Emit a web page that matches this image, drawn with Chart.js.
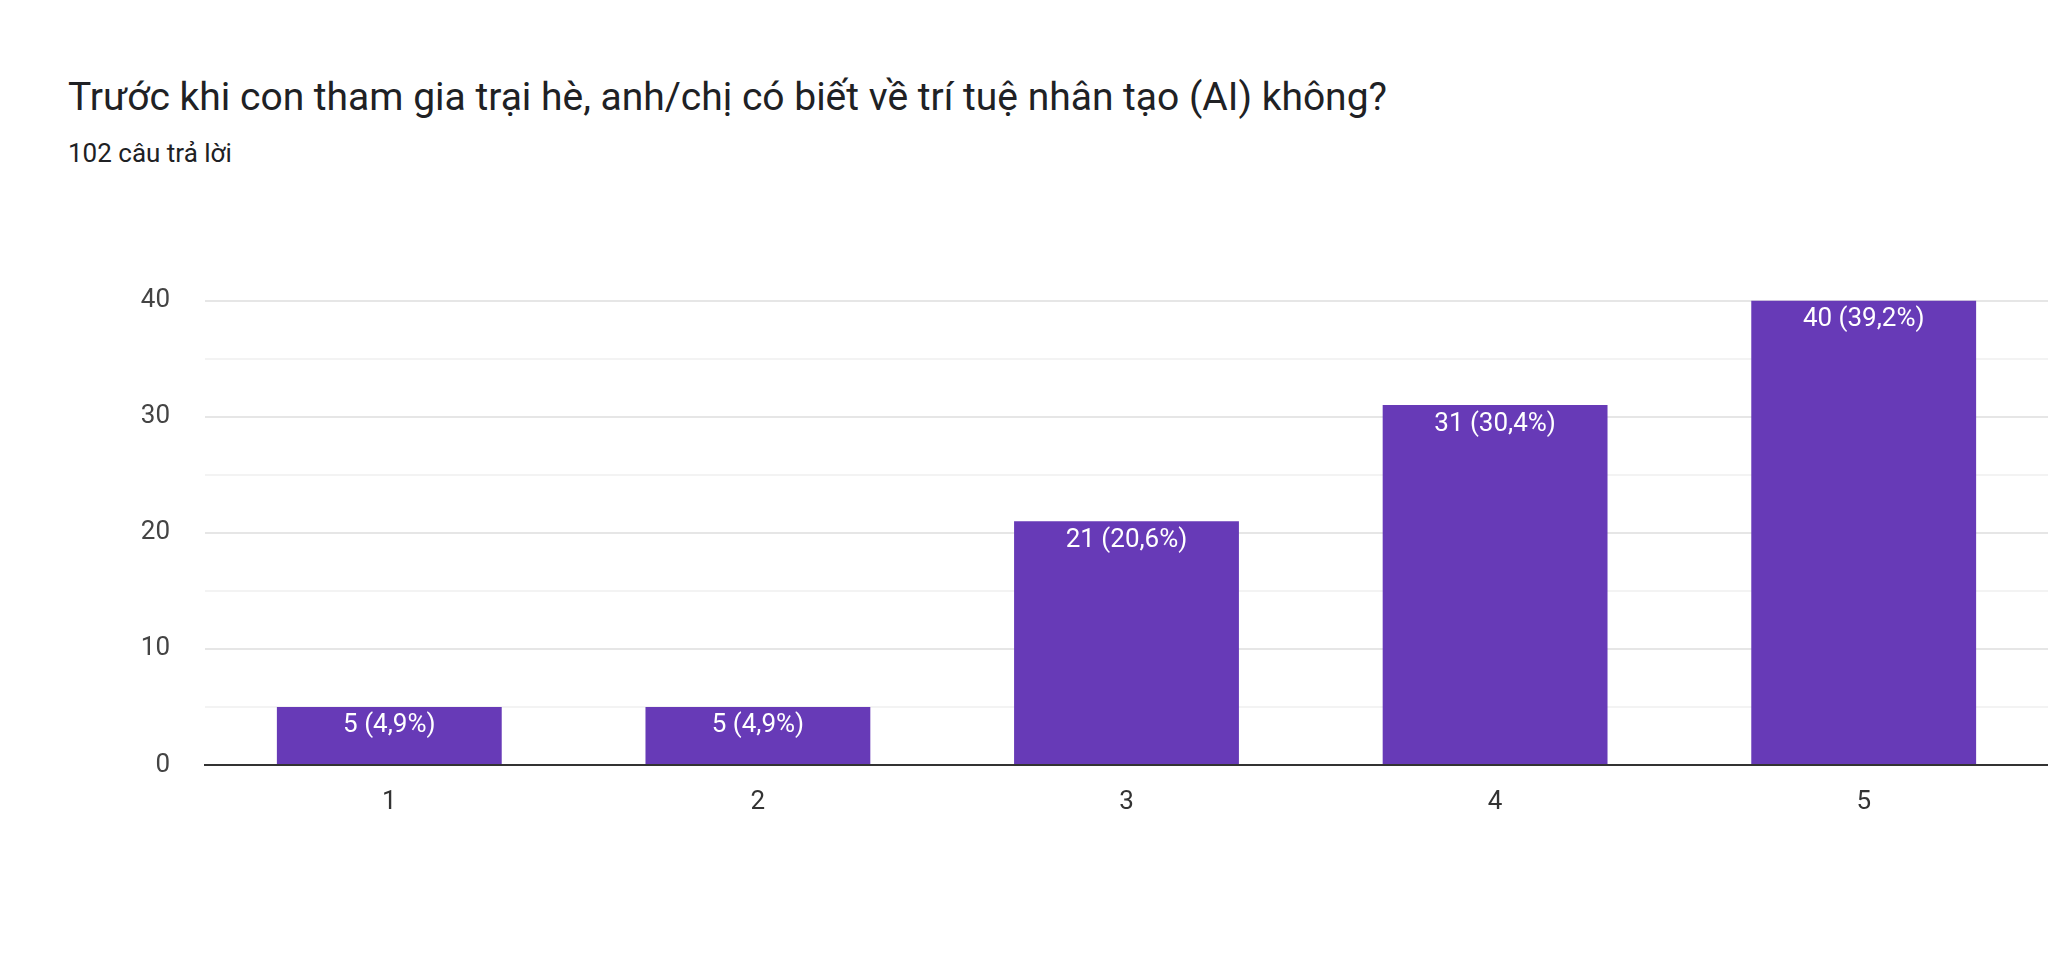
<!DOCTYPE html>
<html><head><meta charset="utf-8">
<script src="https://cdn.jsdelivr.net/npm/chart.js@4"></script>
<style>
body{margin:0;width:2048px;height:974px;background:#fff;font-family:Roboto,"Noto Sans",sans-serif;overflow:hidden;position:relative}
#title{position:absolute;left:68px;top:74px;font-size:39px;color:#202124}
#sub{position:absolute;left:68px;top:138px;font-size:26px;color:#202124}
#box{position:absolute;left:0;top:250px;width:2048px;height:615px}
</style></head><body>
<div id="title">Trước khi con tham gia trại hè, anh/chị có biết về trí tuệ nhân tạo (AI) không?</div>
<div id="sub">102 câu trả lời</div>
<div id="box"><canvas id="c"></canvas></div>
<script>
// data
const categories=["1","2","3","4","5"];
const counts=[5,5,21,31,40];
const labels=["5 (4,9%)","5 (4,9%)","21 (20,6%)","31 (30,4%)","40 (39,2%)"];

// value labels drawn inside bar tops
const barLabels={
  id:"barLabels",
  afterDatasetsDraw(chart){
    const ctx=chart.ctx;
    ctx.save();
    ctx.fillStyle="#fff";
    ctx.font="26px Roboto";
    ctx.textAlign="center";
    ctx.textBaseline="top";
    chart.getDatasetMeta(0).data.forEach((b,i)=>{
      ctx.fillText(labels[i],b.x,b.y+6);
    });
    ctx.restore();
  }
};

new Chart(document.getElementById("c"),{
  type:"bar",
  data:{labels:categories,datasets:[{data:counts,backgroundColor:"#673ab7",barPercentage:0.61,categoryPercentage:1}]},
  options:{
    responsive:true,maintainAspectRatio:false,animation:false,
    layout:{padding:{top:14,right:0,left:0,bottom:0}},
    plugins:{legend:{display:false},tooltip:{enabled:false}},
    scales:{
      x:{
        grid:{display:false},
        border:{color:"#333",width:2},
        ticks:{color:"#333",font:{size:26,family:"Roboto"},padding:14},
        afterFit(s){s.height=100;}
      },
      y:{
        min:0,max:40,
        ticks:{stepSize:5,color:"#444",font:{size:26,family:"Roboto"},padding:35,
          callback:v=>v%10===0?v:""},
        grid:{color:c=>c.tick&&c.tick.value%10===0?"#e6e6e6":"#f3f3f3",lineWidth:2,drawTicks:false},
        border:{display:false},
        afterFit(s){s.width=205;}
      }
    }
  },
  plugins:[barLabels]
});
</script>
</body></html>
